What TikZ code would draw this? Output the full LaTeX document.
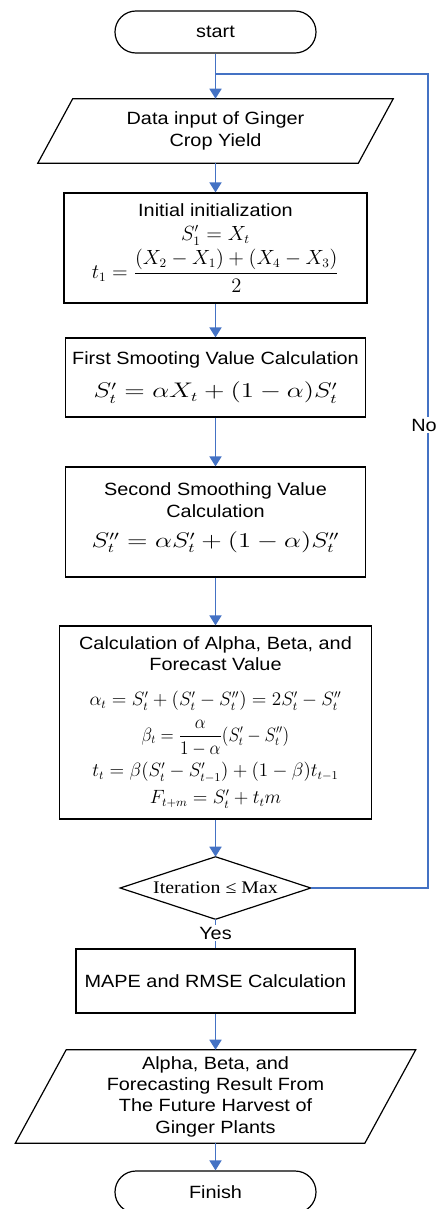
\documentclass[tikz,border=0pt]{standalone}
\usepackage[no-math]{fontspec}
\usepackage{graphicx}
\setmainfont{Liberation Sans}[FakeStretch=1.12]
\newfontfamily\decfont{Liberation Serif}[FakeStretch=1.12]
\usetikzlibrary{arrows.meta}
\definecolor{flowblue}{RGB}{68,114,196}
\begin{document}
\begin{tikzpicture}[x=0.75pt,y=-0.75pt,
  font=\fontsize{13.3}{16}\selectfont,
  box/.style={draw=black, line width=0.9pt, align=center, inner sep=1pt},
  term/.style={draw=black, line width=0.9pt, rounded corners=15.7pt, minimum width=150.75pt, minimum height=31.5pt, inner sep=0pt},
  plain/.style={align=center, inner sep=0pt},
  outline/.style={draw=black, line width=0.9pt},
  arr/.style={draw=flowblue, line width=1.3pt, -{Triangle[width=9pt,length=7.5pt]}},
  flow/.style={draw=flowblue, line width=1.3pt},
  loopline/.style={draw=flowblue, line width=1pt},
  lbl/.style={fill=white, inner sep=1pt}]
\useasboundingbox (0,0) rectangle (441,1209);

% nodes
\node[term] (start) at (215.5,32) {start};
\coordinate (junc) at (215.5,74);
\coordinate (loopc) at (428,74);

\node[plain, minimum width=240pt, minimum height=48pt] (data) at (215.5,131)
  {Data input of Ginger\\Crop Yield};
\draw[outline] ([xshift=13.1pt]data.north west) -- ([xshift=13.1pt]data.north east)
  -- ([xshift=-13.1pt]data.south east) -- ([xshift=-13.1pt]data.south west) -- cycle;

\node[box, minimum width=227.25pt, minimum height=82.5pt] (init) at (215.5,248)
  {Initial initialization\\[2pt]
   \scalebox{1.07}{$S'_1 = X_t$}\\[2pt]
   \scalebox{1.07}{$\displaystyle t_1=\frac{(X_2-X_1)+(X_4-X_3)}{2}$}};

\node[box, minimum width=225pt, minimum height=59.25pt] (first) at (215.5,377.5)
  {First Smooting Value Calculation\\[9pt]
   \scalebox{1.4}[1.1]{$S'_t=\alpha X_t+(1-\alpha)S'_t$}};

\node[box, minimum width=225pt, minimum height=82.5pt] (second) at (215.5,522)
  {Second Smoothing Value\\Calculation\\[7pt]
   \scalebox{1.4}[1.1]{$S''_t=\alpha S'_t+(1-\alpha)S''_t$}\rule[-10pt]{0pt}{0pt}};

\node[box, minimum width=234pt, minimum height=144.75pt] (calc) at (215.5,722.5)
  {Calculation of Alpha, Beta, and\\Forecast Value\\[10pt]
   $\alpha_t=S'_t+(S'_t-S''_t)=2S'_t-S''_t$\\[6pt]
   \scalebox{0.9}[1]{$\displaystyle \beta_t=\frac{\alpha}{1-\alpha}(S'_t-S''_t)$}\\[4pt]
   $t_t=\beta(S'_t-S'_{t-1})+(1-\beta)t_{t-1}$\\[4pt]
   $F_{t+m}=S'_t+t_t m$};

\node[plain, minimum width=142.5pt, minimum height=46.5pt, font=\fontsize{13.3}{16}\decfont] (dec) at (215.5,888)
  {Iteration ≤ Max};
\draw[outline] (dec.north) -- (dec.east) -- (dec.south) -- (dec.west) -- cycle;

\node[box, minimum width=209.25pt, minimum height=48pt] (mape) at (215.5,981)
  {MAPE and RMSE Calculation};

\node[plain, minimum width=261.75pt, minimum height=69.75pt] (out) at (215.5,1096.5)
  {Alpha, Beta, and\\Forecasting Result From\\The Future Harvest of\\Ginger Plants};
\draw[outline] ([xshift=19.1pt]out.north west) -- ([xshift=19.1pt]out.north east)
  -- ([xshift=-19.1pt]out.south east) -- ([xshift=-19.1pt]out.south west) -- cycle;

\node[term] (finish) at (215.5,1192) {Finish};

% connectors
\draw[arr] (start.south) -- (data.north);
\draw[loopline] (dec.east) -| (loopc) -- (junc);
\node[lbl] (no) at (424,425) {No};
\draw[arr] (data.south) -- (init.north);
\draw[arr] (init.south) -- (first.north);
\draw[arr] (first.south) -- (second.north);
\draw[arr] (second.south) -- (calc.north);
\draw[arr] (calc.south) -- (dec.north);
\draw[flow] (dec.south) -- (mape.north);
\node[lbl] (yes) at (215.5,933) {Yes};
\draw[arr] (mape.south) -- (out.north);
\draw[arr] (out.south) -- (finish.north);
\end{tikzpicture}
\end{document}
